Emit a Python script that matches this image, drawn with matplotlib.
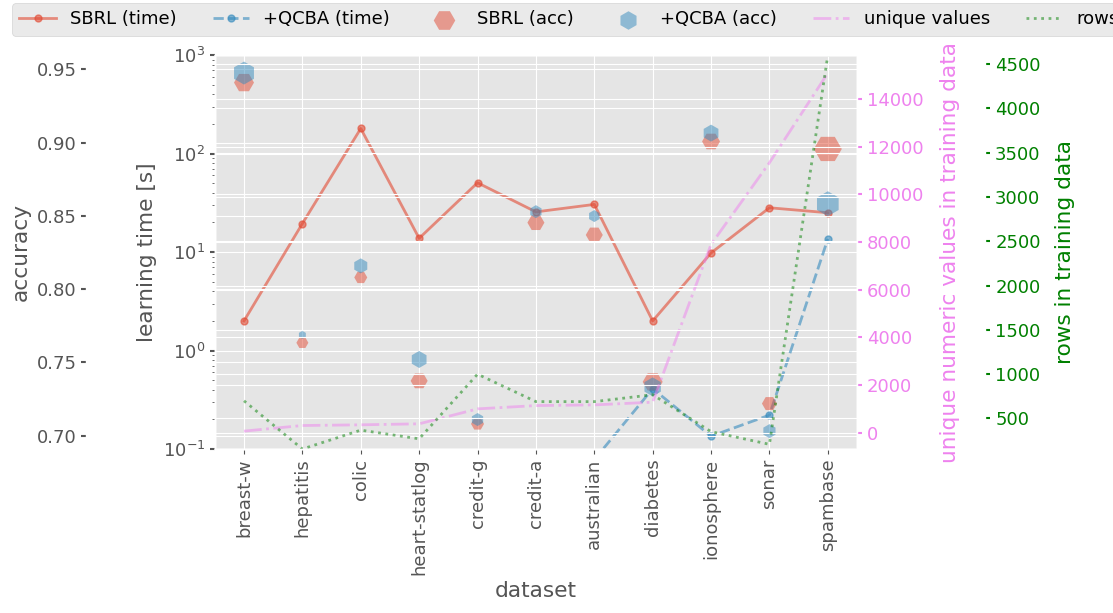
import numpy as np
import matplotlib
matplotlib.use("Agg")
import matplotlib.pyplot as plt

plt.style.use("ggplot")
plt.rcParams["font.size"] = 13

datasets = ["breast-w", "hepatitis", "colic", "heart-statlog", "credit-g", "credit-a",
            "australian", "diabetes", "ionosphere", "sonar", "spambase"]
sbrl_time = [2.0, 19.5, 180, 13.8, 50.6, 25.6, 30.5, 2.0, 9.8, 28.2, 25.1]
qcba_time = [np.nan, np.nan, np.nan, np.nan, np.nan, np.nan, 0.078, 0.41, 0.135, 0.221, 13.6]
sbrl_acc = [0.941, 0.7634, 0.808, 0.7374, 0.708, 0.8454, 0.837, 0.7367, 0.9008, 0.7219, 0.8957]
qcba_acc = [0.9475, 0.7688, 0.8159, 0.752, 0.711, 0.8529, 0.8499, 0.7333, 0.9065, 0.7031, 0.8583]
unique_vals = [70, 305, 334, 376, 1003, 1141, 1170, 1283, 7900, 11325, 15085]
rows = [699, 155, 368, 270, 1000, 690, 690, 768, 351, 208, 4601]
# marker area of the accuracy hexagons
sbrl_area = [207, 75, 88, 150, 88, 150, 150, 207, 168, 117, 406]
qcba_area = [274, 33, 117, 150, 88, 88, 75, 187, 150, 102, 324]

x = np.arange(len(datasets))

fig = plt.figure(figsize=(11.13, 6.13), dpi=100)
fig.subplots_adjust(left=0.193, right=0.770, top=0.910, bottom=0.2675)
ax = fig.add_subplot(111)

# learning time (log)
l1, = ax.plot(x, sbrl_time, "-o", color="#E24A33", alpha=0.6, lw=2, ms=5, label="SBRL (time)")
l2, = ax.plot(x, qcba_time, "--o", color="#348ABD", alpha=0.6, lw=2, ms=5, label="+QCBA (time)")
ax.set_yscale("log")
ax.set_ylim(0.1, 1000)
ax.set_ylabel("learning time [s]")
ax.set_xticks(x)
ax.set_xticklabels(datasets, rotation=90)
ax.set_xlabel("dataset")

# accuracy on an offset left axis
ax_acc = ax.twinx()
ax_acc.yaxis.set_label_position("left")
ax_acc.yaxis.set_ticks_position("left")
ax_acc.spines["left"].set_position(("axes", -0.2))
s1 = ax_acc.scatter(x, sbrl_acc, s=sbrl_area, marker="H", color="#E24A33", alpha=0.5,
                    linewidths=0, label="SBRL (acc)")
s2 = ax_acc.scatter(x, qcba_acc, s=qcba_area, marker="h", color="#348ABD", alpha=0.5,
                    linewidths=0, label="+QCBA (acc)")
ax_acc.set_ylabel("accuracy")

# unique values
ax_u = ax.twinx()
l3, = ax_u.plot(x, unique_vals, "-.", color="violet", alpha=0.5, lw=2, label="unique values")
ax_u.set_ylabel("unique numeric values in training data", color="violet", labelpad=12)
ax_u.tick_params(axis="y", colors="violet")

# rows
ax_r = ax.twinx()
ax_r.spines["right"].set_position(("axes", 1.2))
l4, = ax_r.plot(x, rows, ":", color="green", alpha=0.5, lw=2, label="rows")
ax_r.set_ylim(min(rows), max(rows))
ax_r.set_ylabel("rows in training data", color="green", labelpad=10)
ax_r.tick_params(axis="y", colors="green")

for a in (ax, ax_acc, ax_u, ax_r):
    a.tick_params(axis="y", width=1.5)

handles = [l1, l2, s1, s2, l3, l4]
fig.legend(handles, [h.get_label() for h in handles], loc="upper left",
           bbox_to_anchor=(0.011, 0.995), borderaxespad=0, ncol=6)

fig.savefig("out.png", dpi=100)
